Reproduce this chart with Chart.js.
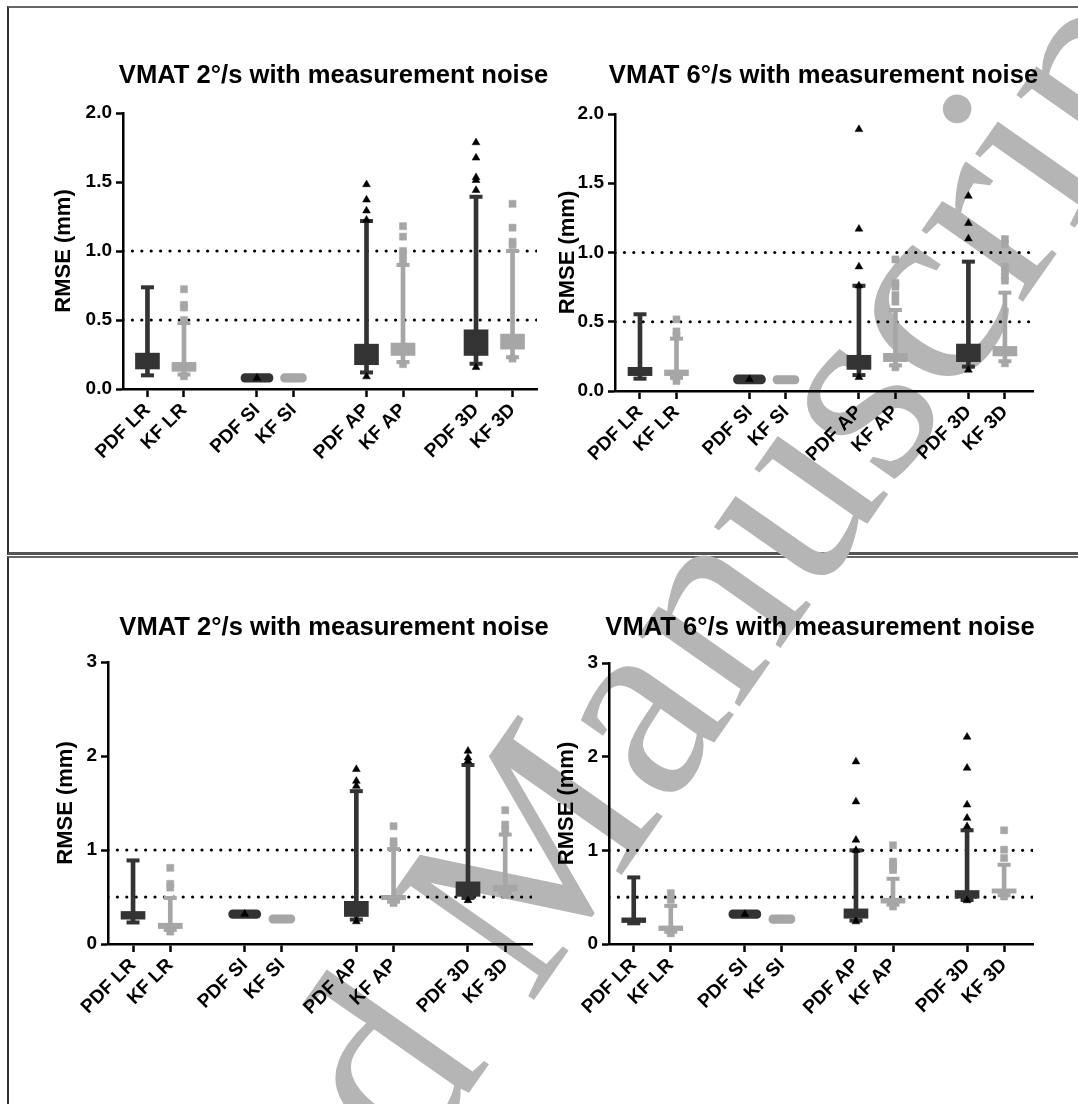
<!DOCTYPE html>
<html>
<head>
<meta charset="utf-8">
<script src="https://cdn.jsdelivr.net/npm/chart.js@4.4.1/dist/chart.umd.min.js"></script>
<style>
  html, body { margin: 0; padding: 0; background: #fff; }
  body { width: 1078px; height: 1104px; position: relative; overflow: hidden; }
  .frame { position: absolute; left: 7px; width: 1080px; border-left: 2px solid #333; }
  #frameTop { top: 6px; height: 544px; border-top: 2px solid #666; border-bottom: 3px solid #555; }
  #frameBottom { top: 556px; height: 600px; border-top: 2px solid #666; }
  #wm { position: absolute; left: -279px; top: 1767px; font-family: "Liberation Serif", "DejaVu Serif", serif;
        font-size: 270px; line-height: 1; color: #b5b5b5; white-space: nowrap;
        transform-origin: 0 0; transform: rotate(-55deg); }
  canvas { position: absolute; }
</style>
</head>
<body>
<div class="frame" id="frameTop"></div>
<div class="frame" id="frameBottom"></div>
<div id="wm">Accepted Manuscript</div>
<canvas id="c1"></canvas>
<canvas id="c2"></canvas>
<canvas id="c3"></canvas>
<canvas id="c4"></canvas>
<script>
// x slots, blanks make the gaps between the pairs
const slotLabels = ['PDF LR', 'KF LR', '', 'PDF SI', 'KF SI', '', 'PDF AP', 'KF AP', '', 'PDF 3D', 'KF 3D'];
const categories = ['PDF LR', 'KF LR', 'PDF SI', 'KF SI', 'PDF AP', 'KF AP', 'PDF 3D', 'KF 3D'];
const titles = ['VMAT 2°/s with measurement noise', 'VMAT 6°/s with measurement noise'];
const refLines = [0.5, 1.0];

// upper figure, 2 deg/s
const up2Q1 = [0.145, 0.128, 0.049, 0.049, 0.176, 0.243, 0.243, 0.289];
const up2Q3 = [0.260, 0.193, 0.111, 0.111, 0.325, 0.333, 0.429, 0.398];
const up2Lo = [0.099, 0.105, null, null, 0.120, 0.195, 0.183, 0.230];
const up2Hi = [0.737, 0.477, null, null, 1.217, 0.899, 1.393, 1.000];
const up2Out = [[], [0.723, 0.61, 0.59, 0.50, 0.092], [0.08], [],
  [1.482, 1.371, 1.292, 1.225, 0.09], [1.18, 1.104, 1.0, 0.97, 0.93, 0.18],
  [1.786, 1.675, 1.533, 1.513, 1.44, 0.157], [1.342, 1.169, 1.067, 1.043, 0.22]];

// upper figure, 6 deg/s
const up6Q1 = [0.111, 0.111, 0.051, 0.051, 0.156, 0.212, 0.212, 0.253];
const up6Q3 = [0.171, 0.152, 0.116, 0.111, 0.258, 0.272, 0.339, 0.322];
const up6Lo = [0.089, 0.095, null, null, 0.115, 0.185, 0.176, 0.215];
const up6Hi = [0.554, 0.378, null, null, 0.760, 0.585, 0.934, 0.710];
const up6Out = [[], [0.517, 0.43, 0.40, 0.072], [0.084], [],
  [1.889, 1.17, 0.898, 0.76, 0.099], [0.95, 0.78, 0.753, 0.693, 0.645, 0.171],
  [1.408, 1.211, 1.1, 0.152], [1.097, 1.061, 0.898, 0.862, 0.826, 0.797, 0.2]];

// lower figure, 2 deg/s
const lo2Q1 = [0.264, 0.164, 0.272, 0.221, 0.293, 0.471, 0.507, 0.561];
const lo2Q3 = [0.346, 0.221, 0.364, 0.311, 0.454, 0.518, 0.661, 0.625];
const lo2Lo = [0.229, 0.150, null, null, 0.260, 0.450, 0.490, 0.540];
const lo2Hi = [0.889, 0.490, null, null, 1.626, 1.010, 1.904, 1.164];
const lo2Out = [[], [0.81, 0.64, 0.60, 0.132], [0.318], [],
  [1.858, 1.733, 1.68, 0.239], [1.253, 1.093, 1.04, 0.436],
  [2.053, 1.982, 1.947, 0.464], [1.423, 1.27, 1.217, 0.525]];

// lower figure, 6 deg/s
const lo6Q1 = [0.229, 0.143, 0.272, 0.221, 0.275, 0.436, 0.489, 0.543];
const lo6Q3 = [0.279, 0.193, 0.364, 0.311, 0.375, 0.489, 0.571, 0.589];
const lo6Lo = [0.221, 0.130, null, null, 0.250, 0.420, 0.470, 0.520];
const lo6Hi = [0.711, 0.407, null, null, 1.000, 0.696, 1.214, 0.846];
const lo6Out = [[], [0.543, 0.471, 0.114], [0.318], [],
  [1.947, 1.52, 1.11, 1.0, 0.239], [1.054, 0.88, 0.85, 0.82, 0.79, 0.40],
  [2.21, 1.879, 1.486, 1.344, 1.255, 0.464], [1.214, 1.007, 0.918, 0.507]];

const DARK = '#333333', GREY = '#a6a6a6', BLACK = '#000000';
const FONT = '"Liberation Sans", Arial, Helvetica, sans-serif';

const panels = [
  { id: 'c1', title: titles[0], q1: up2Q1, q3: up2Q3, lo: up2Lo, hi: up2Hi, out: up2Out,
    yMax: 2, step: 0.5, dec: 1, xMin: -0.67, xMax: 10.67,
    area: { l: 123, r: 537, t: 113, b: 389 }, titleX: 333.5, titleY: 76, yTitleX: 64 },
  { id: 'c2', title: titles[1], q1: up6Q1, q3: up6Q3, lo: up6Lo, hi: up6Hi, out: up6Out,
    yMax: 2, step: 0.5, dec: 1, xMin: -0.685, xMax: 10.77,
    area: { l: 615, r: 1033, t: 114, b: 391 }, titleX: 823.5, titleY: 76, yTitleX: 568 },
  { id: 'c3', title: titles[0], q1: lo2Q1, q3: lo2Q3, lo: lo2Lo, hi: lo2Hi, out: lo2Out,
    yMax: 3, step: 1, dec: 0, xMin: -0.673, xMax: 10.72,
    area: { l: 108, r: 532, t: 662, b: 944 }, titleX: 334, titleY: 628, yTitleX: 66 },
  { id: 'c4', title: titles[1], q1: lo6Q1, q3: lo6Q3, lo: lo6Lo, hi: lo6Hi, out: lo6Out,
    yMax: 3, step: 1, dec: 0, xMin: -0.668, xMax: 10.78,
    area: { l: 609, r: 1033, t: 663, b: 944 }, titleX: 820, titleY: 628, yTitleX: 567 }
];

// panel heading, placed freely because it overhangs the plot area
const panelTitle = {
  id: 'panelTitle',
  afterDraw(chart, args, opts) {
    const ctx = chart.ctx;
    ctx.save();
    ctx.font = 'bold 25.6px ' + FONT;
    ctx.fillStyle = BLACK;
    ctx.textAlign = 'center';
    ctx.textBaseline = 'middle';
    ctx.fillText(opts.text, opts.x, opts.y);
    ctx.restore();
  }
};

function slotOf(i) { return slotLabels.indexOf(categories[i]); }

function makeDatasets(p) {
  const ds = [];
  refLines.forEach(v => ds.push({
    type: 'line', data: [{ x: p.xMin, y: v }, { x: p.xMax, y: v }],
    borderColor: BLACK, borderWidth: 3.2, borderDash: [0, 9.4], borderCapStyle: 'round',
    pointRadius: 0, order: 10
  }));
  [true, false].forEach(pdf => {
    const col = pdf ? DARK : GREY;
    const idx = categories.map((c, i) => i).filter(i => categories[i].startsWith('PDF') === pdf);
    const boxIdx = idx.filter(i => !categories[i].endsWith('SI'));
    const siIdx = idx.filter(i => categories[i].endsWith('SI'));
    ds.push({ type: 'bar', grouped: false, barThickness: 4, backgroundColor: col, order: 6,
      data: boxIdx.map(i => ({ x: slotOf(i), y: [p.lo[i], p.hi[i]] })) });
    ds.push({ type: 'bar', grouped: false, barThickness: 24, backgroundColor: col, order: 5,
      data: boxIdx.map(i => ({ x: slotOf(i), y: [p.q1[i], p.q3[i]] })) });
    ds.push({ type: 'bar', grouped: false, barThickness: pdf ? 32 : 26, borderRadius: 5, borderSkipped: false,
      backgroundColor: col, order: 5,
      data: siIdx.map(i => ({ x: slotOf(i), y: [p.q1[i], p.q3[i]] })) });
    ds.push({ type: 'scatter', pointStyle: 'line', pointRadius: 6.5, pointBorderWidth: 4,
      pointBorderColor: col, order: 4,
      data: boxIdx.flatMap(i => [{ x: slotOf(i), y: p.lo[i] }, { x: slotOf(i), y: p.hi[i] }]) });
    ds.push({ type: 'scatter', pointStyle: pdf ? 'triangle' : 'rect', pointRadius: pdf ? 4.5 : 5,
      pointBackgroundColor: pdf ? BLACK : GREY, pointBorderColor: pdf ? BLACK : GREY, pointBorderWidth: 0.5,
      order: 3,
      data: idx.flatMap(i => p.out[i].map(v => ({ x: slotOf(i), y: v }))) });
  });
  return ds;
}

const usedSlots = categories.map(c => slotLabels.indexOf(c));

panels.forEach(p => {
  const a = p.area;
  const X = p.yTitleX - 20;
  const yW = a.l - X;
  const Y = p.titleY - 40;
  const W = a.r + 25 - X;
  const H = a.b + 120 - Y;
  const canvas = document.getElementById(p.id);
  canvas.width = W; canvas.height = H;
  canvas.style.left = X + 'px'; canvas.style.top = Y + 'px';

  new Chart(canvas, {
    type: 'bar',
    data: { datasets: makeDatasets(p) },
    plugins: [panelTitle],
    options: {
      responsive: false,
      animation: false,
      devicePixelRatio: 1,
      layout: { padding: { left: 0, right: 25, top: a.t - Y, bottom: 0 } },
      plugins: {
        legend: { display: false },
        tooltip: { enabled: false },
        panelTitle: { text: p.title, x: p.titleX - X, y: p.titleY - Y }
      },
      scales: {
        x: {
          type: 'linear', min: p.xMin, max: p.xMax, offset: false,
          afterBuildTicks: s => { s.ticks = usedSlots.map(v => ({ value: v })); },
          afterFit: s => { s.height = 120; },
          ticks: {
            autoSkip: false, minRotation: 45, maxRotation: 45, padding: 2, color: BLACK,
            font: { family: FONT, size: 19, weight: 'bold' },
            callback: v => slotLabels[v]
          },
          grid: { offset: false, drawOnChartArea: false, tickLength: 8, tickWidth: 2.5, tickColor: BLACK },
          border: { width: 2.5, color: BLACK }
        },
        y: {
          min: 0, max: p.yMax,
          afterFit: s => { s.width = yW; },
          ticks: {
            stepSize: p.step, padding: 4, color: BLACK,
            font: { family: FONT, size: 19, weight: 'bold' },
            callback: v => Number(v).toFixed(p.dec)
          },
          grid: { drawOnChartArea: false, tickLength: 7, tickWidth: 2.5, tickColor: BLACK },
          border: { width: 2.5, color: BLACK },
          title: {
            display: true, text: 'RMSE (mm)', color: BLACK,
            font: { family: FONT, size: 22, weight: 'bold' },
            padding: { top: 6.8, bottom: 0 }
          }
        }
      }
    }
  });
});
</script>
</body>
</html>
